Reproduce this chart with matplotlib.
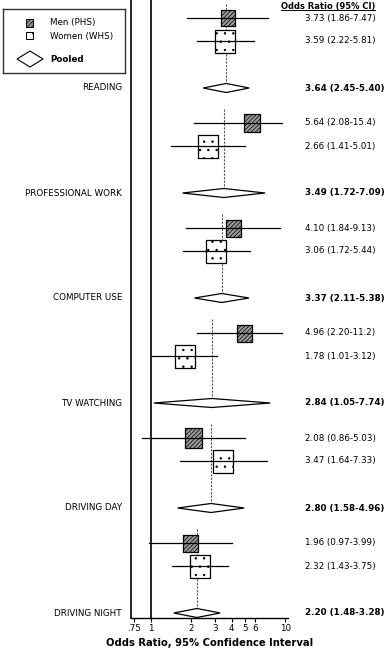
import matplotlib
matplotlib.use("Agg")
import matplotlib.pyplot as plt
import matplotlib.transforms as mtransforms
from matplotlib.patches import Polygon, Rectangle
from matplotlib.path import Path
import numpy as np

# Data (odds ratios with 95% CI)
groups = ['READING', 'PROFESSIONAL WORK', 'COMPUTER USE',
          'TV WATCHING', 'DRIVING DAY', 'DRIVING NIGHT']
men_or = [3.73, 5.64, 4.10, 4.96, 2.08, 1.96]
men_lo = [1.86, 2.08, 1.84, 2.20, 0.86, 0.97]
men_hi = [7.47, 15.4, 9.13, 11.2, 5.03, 3.99]
men_txt = ['3.73 (1.86-7.47)', '5.64 (2.08-15.4)', '4.10 (1.84-9.13)',
           '4.96 (2.20-11.2)', '2.08 (0.86-5.03)', '1.96 (0.97-3.99)']
women_or = [3.59, 2.66, 3.06, 1.78, 3.47, 2.32]
women_lo = [2.22, 1.41, 1.72, 1.01, 1.64, 1.43]
women_hi = [5.81, 5.01, 5.44, 3.12, 7.33, 3.75]
women_txt = ['3.59 (2.22-5.81)', '2.66 (1.41-5.01)', '3.06 (1.72-5.44)',
             '1.78 (1.01-3.12)', '3.47 (1.64-7.33)', '2.32 (1.43-3.75)']
pooled_or = [3.64, 3.49, 3.37, 2.84, 2.80, 2.20]
pooled_lo = [2.45, 1.72, 2.11, 1.05, 1.58, 1.48]
pooled_hi = [5.40, 7.09, 5.38, 7.74, 4.96, 3.28]
pooled_txt = ['3.64 (2.45-5.40)', '3.49 (1.72-7.09)', '3.37 (2.11-5.38)',
              '2.84 (1.05-7.74)', '2.80 (1.58-4.96)', '2.20 (1.48-3.28)']
# relative box size (study weight)
men_w = [16, 18, 17, 17, 20, 17]
women_w = [23, 23, 23, 23, 23, 23]

xticks = [0.75, 1, 2, 3, 4, 5, 6, 10]
xtick_labels = ['.75', '1', '2', '3', '4', '5', '6', '10']

W, H = 386, 651
plt.rcParams['hatch.linewidth'] = 0.5
fig = plt.figure(figsize=(W / 100, H / 100), dpi=100)
ax = fig.add_axes([131 / W, (H - 618) / H, (288 - 131) / W, 618 / H])
ax.set_xscale('log')
ax.set_xlim(0.71, 10.5)
ax.set_ylim(618, 0)

n = len(groups)
y_pool = 88 + 105 * np.arange(n)
y_men = y_pool - 70
y_women = y_pool - 47
clip_hi = 9.5

ax.axvline(1, color='black', lw=1.2, zorder=1)

# dotted reference line at pooled estimate for each group
for i in range(n):
    ax.plot([pooled_or[i]] * 2, [y_pool[i] - 84, y_pool[i] - 4],
            color='#555555', lw=0.8, ls=(0, (2, 1.2)), zorder=1)

# CI lines
for ys, lo, hi in [(y_men, men_lo, men_hi), (y_women, women_lo, women_hi)]:
    for i in range(n):
        ax.plot([lo[i], min(hi[i], clip_hi)], [ys[i]] * 2,
                color='black', lw=0.9, zorder=4)

rect = Path([(-0.435, -0.5), (0.435, -0.5), (0.435, 0.5), (-0.435, 0.5), (-0.435, -0.5)],
            [Path.MOVETO, Path.LINETO, Path.LINETO, Path.LINETO, Path.CLOSEPOLY])
ax.scatter(men_or, y_men, s=(np.array(men_w) * 0.72) ** 2, marker=rect,
           facecolor='#999999', edgecolor='black', hatch='////////', lw=0.9, zorder=3)
ax.scatter(women_or, y_women, s=(np.array(women_w) * 0.72) ** 2, marker=rect,
           facecolor='white', edgecolor='black', hatch='..', lw=0.9, zorder=3)

# pooled diamonds
for i in range(n):
    d = Polygon([(pooled_lo[i], y_pool[i]), (pooled_or[i], y_pool[i] - 4.5),
                 (pooled_hi[i], y_pool[i]), (pooled_or[i], y_pool[i] + 4.5)],
                closed=True, facecolor='white', edgecolor='black', lw=0.9, zorder=3)
    ax.add_patch(d)

for s in ['top', 'right']:
    ax.spines[s].set_visible(False)
ax.spines['left'].set_linewidth(1.2)
ax.spines['bottom'].set_linewidth(1.0)
ax.set_yticks([])
ax.set_xticks(xticks)
ax.set_xticklabels(xtick_labels)
ax.minorticks_off()
ax.tick_params(axis='x', length=3, width=0.8, pad=1, labelsize=6.3)
ax.set_xlabel('Odds Ratio, 95% Confidence Interval', fontsize=7.2,
              fontweight='bold', labelpad=4)

# side texts
tr = mtransforms.blended_transform_factory(fig.transFigure, ax.transData)
for i in range(n):
    fig.text(122 / W, y_pool[i], groups[i], transform=tr, ha='right',
             va='center', fontsize=6.3)
    fig.text(305 / W, y_men[i], men_txt[i], transform=tr, ha='left',
             va='center', fontsize=6.3)
    fig.text(305 / W, y_women[i], women_txt[i], transform=tr, ha='left',
             va='center', fontsize=6.3)
    fig.text(305 / W, y_pool[i], pooled_txt[i], transform=tr, ha='left',
             va='center', fontsize=6.3, fontweight='bold')

hdr = fig.text(281 / W, 1 - 6 / H, 'Odds Ratio (95% CI)', ha='left', va='center',
               fontsize=6.0, fontweight='bold')
fig.canvas.draw()
bb = hdr.get_window_extent().transformed(fig.transFigure.inverted())
fig.add_artist(plt.Line2D([bb.x0, bb.x1], [bb.y0 + 0.001, bb.y0 + 0.001],
                          color='black', lw=0.7, transform=fig.transFigure))

# legend box
lax = fig.add_axes([3 / W, 1 - 73 / H, 122 / W, 64 / H])
lax.set_xlim(3, 125)
lax.set_ylim(73, 9)
lax.set_xticks([])
lax.set_yticks([])
for s in lax.spines.values():
    s.set_linewidth(1.0)
    s.set_color('#333333')
lax.add_patch(Rectangle((26, 19), 7, 8, facecolor='#999999', edgecolor='black',
                        hatch='////////', lw=0.7))
lax.add_patch(Rectangle((26, 32), 7, 7, facecolor='white', edgecolor='black',
                        hatch='..', lw=0.7))
lax.add_patch(Polygon([(17, 59), (30, 51), (43, 59), (30, 67)], closed=True,
                      facecolor='white', edgecolor='black', lw=0.8))
lax.text(50, 23, 'Men (PHS)', va='center', fontsize=6.3)
lax.text(50, 36, 'Women (WHS)', va='center', fontsize=6.3)
lax.text(50, 59, 'Pooled', va='center', fontsize=6.3, fontweight='bold')

fig.savefig('out.png', dpi=100)
